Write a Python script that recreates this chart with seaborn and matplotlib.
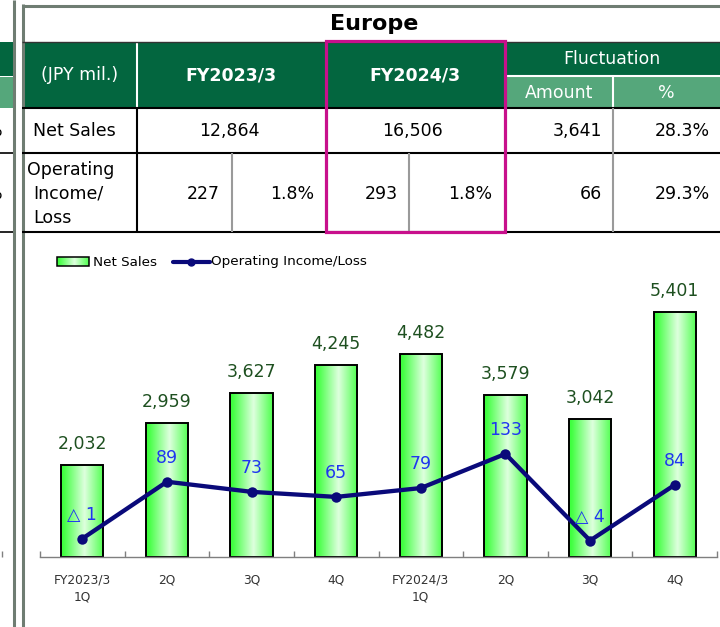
import numpy as np
import pandas as pd
import matplotlib
matplotlib.use('Agg')
import matplotlib.pyplot as plt
from matplotlib.patches import Rectangle
import seaborn as sns

# ---- data ----
region = 'Europe'
fiscal_years = ['FY2023/3', 'FY2024/3']
net_sales_fy = [12864, 16506]
op_income_fy = [227, 293]
op_margin_fy = [1.8, 1.8]
fluct_amount = [3641, 66]
fluct_pct = [28.3, 29.3]

quarter_labels = ['FY2023/3\n1Q', '2Q', '3Q', '4Q', 'FY2024/3\n1Q', '2Q', '3Q', '4Q']
quarter_sales = [2032, 2959, 3627, 4245, 4482, 3579, 3042, 5401]
quarter_op = [-1, 89, 73, 65, 79, 133, -4, 84]

sns.set_theme(style='white')
plt.rcParams['font.family'] = ['DejaVu Sans']
plt.rcParams['text.color'] = 'black'

W, H = 720, 627
DKG = '#03663f'
LTG = '#55a77b'
MAG = '#c8108c'
FRAME = '#6f7d72'
NAVY = '#0a0a7a'

fig = plt.figure(figsize=(W / 100, H / 100), dpi=100)

# overlay axes in pixel coordinates for the table / frame
ov = fig.add_axes([0, 0, 1, 1])
ov.set_axis_off()

def hline(y, x0, x1, **kw):
    ov.plot([x0, x1], [y, y], solid_capstyle='butt', **kw)

def vline(x, y0, y1, **kw):
    ov.plot([x, x], [y0, y1], solid_capstyle='butt', **kw)

# outer frame (double line on the left, line on top)
vline(14, 0, H, color=FRAME, lw=2.2)
vline(22.5, 4, H, color=FRAME, lw=2.2)
hline(6, 21.5, W, color=FRAME, lw=2.2)

# fragment of the neighbouring table on the far left
ov.add_patch(Rectangle((0, 42), 13, 34, color=DKG, lw=0))
ov.add_patch(Rectangle((0, 77), 13, 31, color=LTG, lw=0))
hline(153, 0, 13, color='black', lw=1.2)
hline(232, 0, 13, color='black', lw=1.2)
ov.text(3, 131, '%', ha='right', va='center', fontsize=12.5)
ov.text(3, 194, '%', ha='right', va='center', fontsize=12.5)
vline(2, 551, 557, color='#808080', lw=1)

# title
ov.text(374, 24, region, ha='center', va='center', fontsize=16, fontweight='bold')

# table header
top, mid, hdr, r1, r2 = 42, 76, 108, 153, 232
c0, c1, c2, c3, c4, c5 = 22, 137, 326, 505, 613, W
ov.add_patch(Rectangle((c0, top), c3 - c0, hdr - top, color=DKG, lw=0))
ov.add_patch(Rectangle((c3, top), c5 - c3, mid - top, color=DKG, lw=0))
ov.add_patch(Rectangle((c3, mid), c5 - c3, hdr - mid, color=LTG, lw=0))
vline(c1, top, hdr, color='white', lw=1.5)
hline(mid, c3, c5, color='white', lw=1.5)
vline(c4, mid, hdr, color='white', lw=1.5)

hline(top, c0, c5, color='#333333', lw=1)
for y in (hdr, r1, r2):
    hline(y, c0, c5, color='black', lw=1.5)
vline(c1, hdr, r2, color='black', lw=1.5)
vline(232, r1, r2, color='#9a9a9a', lw=1.5)
vline(409, r1, r2, color='#9a9a9a', lw=1.5)
vline(c4, hdr, r2, color='#9a9a9a', lw=1.5)

fs = 12.5
ov.text(80, 75, '(JPY mil.)', ha='center', va='center', color='white', fontsize=fs)
ov.text(231, 75, fiscal_years[0], ha='center', va='center', color='white', fontsize=fs, fontweight='bold')
ov.text(415, 75, fiscal_years[1], ha='center', va='center', color='white', fontsize=fs, fontweight='bold')
ov.text(612, 59, 'Fluctuation', ha='center', va='center', color='white', fontsize=fs)
ov.text(559, 93, 'Amount', ha='center', va='center', color='white', fontsize=fs)
ov.text(666, 93, '%', ha='center', va='center', color='white', fontsize=fs)

# row: net sales
ov.text(33, 131, 'Net Sales', ha='left', va='center', fontsize=fs)
ov.text(229, 131, f'{net_sales_fy[0]:,}', ha='center', va='center', fontsize=fs)
ov.text(413, 131, f'{net_sales_fy[1]:,}', ha='center', va='center', fontsize=fs)
ov.text(602, 131, f'{fluct_amount[0]:,}', ha='right', va='center', fontsize=fs)
ov.text(710, 131, f'{fluct_pct[0]:.1f}%', ha='right', va='center', fontsize=fs)

# row: operating income
ov.text(27, 170, 'Operating', ha='left', va='center', fontsize=fs)
ov.text(33, 194, 'Income/', ha='left', va='center', fontsize=fs)
ov.text(33, 218, 'Loss', ha='left', va='center', fontsize=fs)
ov.text(220, 194, f'{op_income_fy[0]:,}', ha='right', va='center', fontsize=fs)
ov.text(314, 194, f'{op_margin_fy[0]:.1f}%', ha='right', va='center', fontsize=fs)
ov.text(398, 194, f'{op_income_fy[1]:,}', ha='right', va='center', fontsize=fs)
ov.text(492, 194, f'{op_margin_fy[1]:.1f}%', ha='right', va='center', fontsize=fs)
ov.text(602, 194, f'{fluct_amount[1]:,}', ha='right', va='center', fontsize=fs)
ov.text(710, 194, f'{fluct_pct[1]:.1f}%', ha='right', va='center', fontsize=fs)

# highlight box around current year
ov.add_patch(Rectangle((c2, 41), c3 - c2, r2 - 41, fill=False, edgecolor=MAG, lw=2.3, zorder=5))

# bar gradient (bright green edges, pale centre)
t = np.linspace(0, 1, 64)
w = 1 - np.abs(2 * t - 1.1).clip(0, 1)
edge = np.array([0.25, 1.0, 0.25])
centre = np.array([0.87, 1.0, 0.87])
grad = (edge[None, :] * (1 - w[:, None]) + centre[None, :] * w[:, None])[None, :, :]

# legend (manual)
ov.imshow(grad, extent=[57, 89, 266, 257], aspect='auto', interpolation='bilinear', zorder=2)
ov.add_patch(Rectangle((57, 257), 32, 9, fill=False, edgecolor='black', lw=1.1, zorder=3))
ov.text(93, 262, 'Net Sales', ha='left', va='center', fontsize=9.7)
ov.plot([173, 210], [262, 262], color=NAVY, lw=3)
ov.plot([191], [262], 'o', color=NAVY, markersize=5)
ov.text(211, 262, 'Operating Income/Loss', ha='left', va='center', fontsize=9.7)

ov.set_xlim(0, W)
ov.set_ylim(H, 0)

# ---- chart ----
df = pd.DataFrame({'q': range(len(quarter_sales)), 'sales': quarter_sales, 'op': quarter_op})

ax = fig.add_axes([40 / W, (H - 557) / H, (717 - 40) / W, (557 - 285) / H])
ax.patch.set_alpha(0)
sns.barplot(data=df, x='q', y='sales', width=0.5, color='#66ff66',
            edgecolor='black', linewidth=1.4, ax=ax, zorder=2)
for p in list(ax.patches):
    x0, y0, pw, ph = p.get_x(), p.get_y(), p.get_width(), p.get_height()
    im = ax.imshow(grad, extent=[x0, x0 + pw, y0, y0 + ph], aspect='auto',
                   interpolation='bilinear', zorder=1.9)
    im.set_clip_path(p)
    p.set_facecolor('none')

ax.set_xlim(-0.5, len(quarter_sales) - 0.5)
ax.set_ylim(0, 6000)

for i, v in enumerate(quarter_sales):
    ax.annotate(f'{v:,}', (i, v), xytext=(0, 21), textcoords='offset pixels',
                ha='center', va='center', color='#1e5020', fontsize=12.5)

for s in ('left', 'right', 'top'):
    ax.spines[s].set_visible(False)
ax.spines['bottom'].set_color('#7f7f7f')
ax.spines['bottom'].set_linewidth(1)
ax.set_yticks([])
ax.set_xlabel('')
ax.set_ylabel('')
ax.set_xticks(range(len(quarter_labels)))
ax.set_xticklabels(quarter_labels, fontsize=8.8, color='#333333', linespacing=1.35)
ax.set_xticks(np.arange(-0.5, len(quarter_labels), 1), minor=True)
ax.tick_params(axis='x', which='major', length=0, pad=12)
ax.tick_params(axis='x', which='minor', direction='in', length=4, width=1,
               color='#7f7f7f', bottom=True)

# operating income line on secondary scale
ax2 = ax.twinx()
sns.lineplot(data=df, x='q', y='op', ax=ax2, color=NAVY, lw=3.1, marker='o',
             markersize=7.5, markeredgewidth=0)
ax2.set_ylim(-30, 400)
ax2.set_xlim(-0.5, len(quarter_sales) - 0.5)
ax2.set_axis_off()

for i, v in enumerate(quarter_op):
    lab = f'△ {abs(v)}' if v < 0 else f'{v}'
    ax2.annotate(lab, (i, v), xytext=(0, 24), textcoords='offset pixels',
                 ha='center', va='center', color='#1f35f0', fontsize=12.5)

fig.savefig('out.png', dpi=100)
